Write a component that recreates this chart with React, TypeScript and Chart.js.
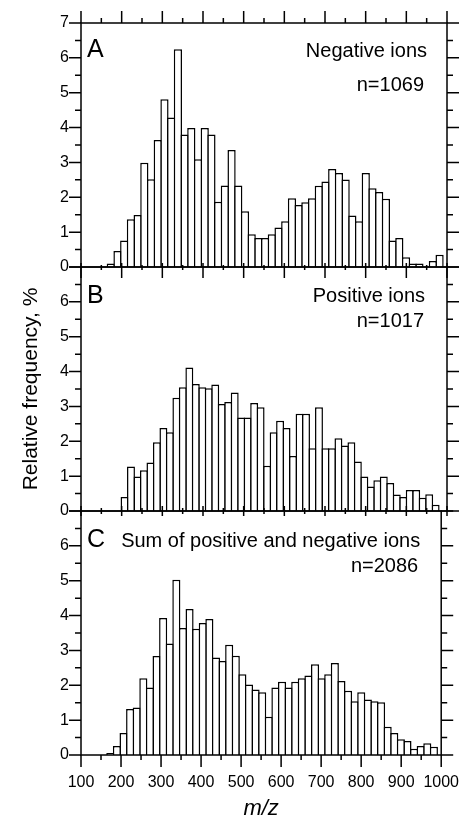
import React, { useEffect, useRef } from "react";
import { Chart, registerables } from "chart.js";

Chart.register(...registerables);

// ---------------- DATA ----------------
// Bin centres (m/z) of the histograms
const binCentersA = [
  173.25, 189.75, 206.25, 222.75, 239.25, 255.75, 272.25, 288.75, 305.25, 321.75,
  338.25, 354.75, 371.25, 387.75, 404.25, 420.75, 437.25, 453.75, 470.25, 486.75,
  503.25, 519.75, 536.25, 552.75, 569.25, 585.75, 602.25, 618.75, 635.25, 651.75,
  668.25, 684.75, 701.25, 717.75, 734.25, 750.75, 767.25, 783.75, 800.25, 816.75,
  833.25, 849.75, 866.25, 882.75, 899.25, 915.75, 932.25, 948.75, 965.25, 981.75,
];
const relFreqA = [
  0.1, 0.46, 0.76, 1.37, 1.49, 2.99, 2.52, 3.64, 4.81, 4.29,
  6.25, 3.8, 3.99, 3.09, 3.99, 3.8, 1.87, 2.34, 3.36, 2.34,
  1.6, 0.94, 0.83, 0.83, 0.94, 1.13, 1.31, 1.97, 1.78, 1.86,
  1.97, 2.33, 2.45, 2.81, 2.7, 2.51, 1.48, 1.31, 2.7, 2.26,
  2.15, 1.96, 0.76, 0.83, 0.28, 0.1, 0.1, 0, 0.17, 0.35,
];

const binCentersB = [
  207.0, 222.9, 238.9, 254.8, 270.7, 286.7, 302.6, 318.6, 334.5, 350.4,
  366.4, 382.3, 398.3, 414.2, 430.1, 446.1, 462.0, 478.0, 493.9, 509.8,
  525.8, 541.7, 557.7, 573.6, 589.5, 605.5, 621.4, 637.4, 653.3, 669.2,
  685.2, 701.1, 717.1, 733.0, 748.9, 764.9, 780.8, 796.8, 812.7, 828.6,
  844.6, 860.5, 876.5, 892.4, 908.3, 924.3, 940.2, 956.2, 972.1,
];
const relFreqB = [
  0.4, 1.28, 0.99, 1.17, 1.39, 1.97, 2.38, 2.26, 3.25, 3.55,
  4.12, 3.64, 3.55, 3.52, 3.63, 3.07, 3.13, 3.4, 2.68, 2.68,
  3.1, 2.98, 1.3, 2.26, 2.59, 2.38, 1.58, 2.79, 2.79, 1.8,
  2.98, 1.8, 1.8, 2.09, 1.88, 1.97, 1.42, 0.99, 0.7, 0.88,
  0.99, 0.8, 0.47, 0.4, 0.6, 0.6, 0.38, 0.48, 0.18,
];

const binCentersC = binCentersA;
const relFreqC = [
  0.06, 0.26, 0.63, 1.32, 1.36, 2.2, 1.94, 2.84, 3.93, 3.2,
  5.03, 3.64, 4.19, 3.62, 3.79, 3.9, 2.8, 2.7, 3.16, 2.85,
  2.32, 2.02, 1.88, 1.8, 1.1, 1.94, 2.1, 1.94, 2.1, 2.2,
  2.28, 2.6, 2.2, 2.32, 2.64, 2.12, 1.84, 1.54, 1.8, 1.59,
  1.54, 1.51, 0.81, 0.63, 0.45, 0.4, 0.18, 0.26, 0.34, 0.24,
];

const xMajorTicks = [100, 200, 300, 400, 500, 600, 700, 800, 900, 1000];
const xMinorTicks = [150, 250, 350, 450, 550, 650, 750, 850, 950];
const yMajorTicks = [0, 1, 2, 3, 4, 5, 6, 7];
const yMinorTicks = [0.5, 1.5, 2.5, 3.5, 4.5, 5.5, 6.5];

const panelLetters = ["A", "B", "C"];
const panelLabels = ["Negative ions", "Positive ions", "Sum of positive and negative ions"];
const panelCounts = ["n=1069", "n=1017", "n=2086"];
const yAxisTitle = "Relative frequency, %";
const xAxisTitle = "m/z";

// ---------------- LAYOUT / STYLE ----------------
const W = 465;
const H = 820;
const FONT = '"Liberation Sans", Arial, Helvetica, sans-serif';
const PLOT_LEFT = 81;
const PLOT_RIGHT = 447;
const PANEL_TOP = [23, 267, 511];
const PANEL_BOTTOM = [267, 511, 755];
const LETTER_BASE = [34, 36, 36];
const LABEL_BASE = [34, 35, 36];
const COUNT_BASE = [67.5, 60, 61];
const LABEL_RIGHT = [20, 22, 21];
const COUNT_RIGHT = [23, 23, 23];
// bottom tick extents [above, below] for major / minor
const X_BOTTOM_MAJOR = [[4, 11], [5, 5], [0, 12]];
const X_BOTTOM_MINOR = [[2, 3], [3, 3], [0, 5]];

function Panel({ index, centers, values }: { index: number; centers: number[]; values: number[] }) {
  const ref = useRef<HTMLCanvasElement>(null);

  useEffect(() => {
    if (!ref.current) return;
    const top = PANEL_TOP[index];
    const bottom = PANEL_BOTTOM[index];
    const isLast = index === 2;

    const framePlugin = {
      id: "frame" + index,
      afterDatasetsDraw(chart: any) {
        const { ctx, chartArea } = chart;
        const { left, right, top: t, bottom: b } = chartArea;
        const xs = chart.scales.x;
        const ys = chart.scales.y;
        ctx.save();
        ctx.strokeStyle = "#000";
        ctx.lineWidth = 1.5;
        ctx.lineCap = "butt";
        ctx.strokeRect(left, t, right - left, b - t);
        ctx.beginPath();
        const seg = (x1: number, y1: number, x2: number, y2: number) => {
          ctx.moveTo(x1, y1);
          ctx.lineTo(x2, y2);
        };
        const [mA, mB] = X_BOTTOM_MAJOR[index];
        const [nA, nB] = X_BOTTOM_MINOR[index];
        for (const v of xMajorTicks) {
          const px = xs.getPixelForValue(v);
          seg(px, b - mA, px, b + mB);
          if (index === 0) seg(px, t, px, t - 12);
        }
        for (const v of xMinorTicks) {
          const px = xs.getPixelForValue(v);
          seg(px, b - nA, px, b + nB);
          if (index === 0) seg(px, t, px, t - 5);
        }
        for (const v of yMajorTicks) {
          const py = ys.getPixelForValue(v);
          seg(left, py, left - 12, py);
          seg(right, py, right + 12, py);
        }
        for (const v of yMinorTicks) {
          const py = ys.getPixelForValue(v);
          seg(left, py, left - 6, py);
          seg(right, py, right + 6, py);
        }
        ctx.stroke();

        ctx.fillStyle = "#000";
        ctx.textBaseline = "alphabetic";
        ctx.textAlign = "left";
        ctx.font = `25px ${FONT}`;
        ctx.fillText(panelLetters[index], left + 6, t + LETTER_BASE[index]);
        ctx.textAlign = "right";
        ctx.font = `20px ${FONT}`;
        ctx.fillText(panelLabels[index], right - LABEL_RIGHT[index], t + LABEL_BASE[index]);
        ctx.fillText(panelCounts[index], right - COUNT_RIGHT[index], t + COUNT_BASE[index]);
        ctx.restore();
      },
    };

    const chart = new Chart(ref.current, {
      type: "bar",
      data: {
        datasets: [
          {
            data: centers.map((x, i) => ({ x, y: values[i] })),
            backgroundColor: "#ffffff",
            borderColor: "#000000",
            borderWidth: 1.5,
            borderSkipped: "start",
            barPercentage: 1.225,
            categoryPercentage: 1,
          } as any,
        ],
      },
      options: {
        responsive: false,
        animation: false,
        devicePixelRatio: 1,
        events: [],
        layout: {
          padding: {
            left: 0,
            right: W - PLOT_RIGHT,
            top: top,
            bottom: isLast ? 0 : H - bottom,
          },
        },
        plugins: {
          legend: { display: false },
          tooltip: { enabled: false },
          title: { display: false },
        },
        scales: {
          x: {
            type: "linear",
            min: 100,
            max: 1000,
            offset: false,
            display: isLast,
            afterFit: (s: any) => {
              if (isLast) s.height = H - bottom;
            },
            afterBuildTicks: (s: any) => {
              s.ticks = xMajorTicks.map((v) => ({ value: v }));
            },
            grid: { display: false, drawTicks: true, tickLength: 12, offset: false },
            border: { display: false },
            ticks: {
              autoSkip: false,
              maxRotation: 0,
              padding: 6,
              color: "#000",
              font: { family: FONT, size: 16 },
              callback: (v: any) => String(v),
            },
            title: {
              display: true,
              text: xAxisTitle,
              color: "#000",
              font: { family: FONT, size: 22, style: "italic", lineHeight: 1 },
              padding: { top: 0, bottom: 0 },
            },
          } as any,
          y: {
            type: "linear",
            position: "left",
            min: 0,
            max: 7,
            afterFit: (s: any) => {
              s.width = PLOT_LEFT;
            },
            afterBuildTicks: (s: any) => {
              s.ticks = yMajorTicks.map((v) => ({ value: v }));
            },
            grid: { display: false, drawTicks: true, tickLength: 12 },
            border: { display: false },
            ticks: {
              padding: 0,
              color: "#000",
              font: { family: FONT, size: 16 },
              callback: (v: any) => (index > 0 && v === 7 ? "" : String(v)),
            },
            title: {
              display: index === 1,
              text: yAxisTitle,
              color: "#000",
              font: { family: FONT, size: 21 },
              padding: { top: 19, bottom: 0 },
            },
          } as any,
        },
      },
      plugins: [framePlugin],
    });

    return () => chart.destroy();
  }, [index, centers, values]);

  return (
    <canvas
      ref={ref}
      width={W}
      height={H}
      style={{ position: "absolute", left: 0, top: 0, width: W, height: H }}
    />
  );
}

export default function App() {
  return (
    <div
      style={{
        position: "fixed",
        left: 0,
        top: 0,
        width: W,
        height: H,
        background: "#ffffff",
        overflow: "hidden",
      }}
    >
      <Panel index={0} centers={binCentersA} values={relFreqA} />
      <Panel index={1} centers={binCentersB} values={relFreqB} />
      <Panel index={2} centers={binCentersC} values={relFreqC} />
    </div>
  );
}
